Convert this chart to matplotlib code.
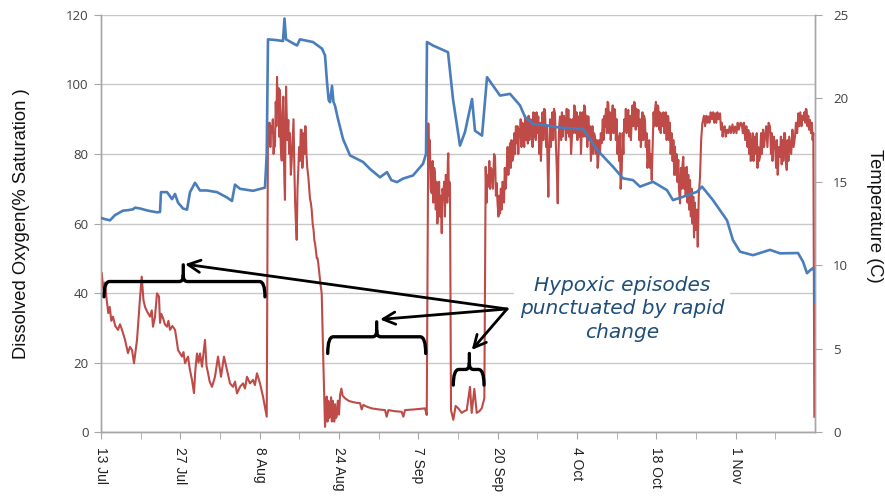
import matplotlib
matplotlib.use('Agg')
import matplotlib.pyplot as plt
from matplotlib.path import Path
from matplotlib.patches import PathPatch

# ---------------- data ----------------
date_labels = ['13 Jul', '27 Jul', '8 Aug', '24 Aug', '7 Sep', '20 Sep',
               '4 Oct', '18 Oct', '1 Nov']

# dissolved oxygen (% saturation): (position on category axis, value)
do_points = [
    (0.009, 45.7), (0.030, 41.0), (0.050, 43.0), (0.072, 38.0), (0.092, 34.2),
    (0.110, 36.0), (0.130, 32.0), (0.151, 33.2), (0.180, 30.5), (0.214, 29.4),
    (0.240, 31.0), (0.265, 29.4), (0.303, 26.5), (0.340, 22.7), (0.365, 24.5),
    (0.391, 23.6), (0.416, 19.8), (0.454, 26.5), (0.490, 38.0), (0.513, 44.7),
    (0.535, 38.0), (0.555, 36.0), (0.585, 34.5), (0.618, 33.2), (0.640, 35.0),
    (0.655, 30.3), (0.680, 33.0), (0.706, 39.9), (0.731, 39.0), (0.744, 31.4),
    (0.760, 34.0), (0.782, 32.8), (0.805, 31.0), (0.832, 30.3), (0.850, 32.0),
    (0.870, 29.4), (0.900, 30.5), (0.933, 29.4), (0.950, 27.0), (0.971, 23.6),
    (1.000, 22.5), (1.021, 21.7), (1.040, 23.0), (1.059, 19.8), (1.097, 21.7),
    (1.120, 18.0), (1.147, 15.0), (1.172, 11.2), (1.190, 18.0), (1.210, 22.6),
    (1.230, 20.0), (1.248, 22.6), (1.273, 18.8), (1.311, 26.5), (1.330, 19.0),
    (1.349, 17.0), (1.370, 14.5), (1.399, 13.0), (1.437, 15.9), (1.475, 21.7),
    (1.513, 15.9), (1.550, 21.7), (1.588, 17.8), (1.626, 14.0), (1.664, 13.0),
    (1.690, 14.5), (1.714, 11.1), (1.752, 13.0), (1.790, 14.0), (1.815, 12.5),
    (1.840, 15.9), (1.878, 14.0), (1.916, 15.0), (1.940, 13.5), (1.966, 16.9),
    (2.004, 14.0), (2.042, 10.2), (2.089, 4.4),
    (2.105, 88.9), (2.115, 84.0), (2.125, 89.0), (2.135, 82.0), (2.145, 88.0),
    (2.156, 86.0), (2.166, 90.0), (2.176, 80.0), (2.186, 86.0), (2.193, 82.1),
    (2.203, 95.0), (2.211, 88.0), (2.219, 102.2), (2.228, 92.0), (2.237, 99.0),
    (2.246, 85.0), (2.256, 98.4), (2.266, 82.0), (2.278, 78.1), (2.288, 92.0),
    (2.298, 96.5), (2.305, 80.0), (2.312, 72.0), (2.319, 66.8), (2.326, 88.0),
    (2.333, 99.4), (2.340, 92.0), (2.350, 84.0), (2.361, 89.8), (2.372, 80.0),
    (2.382, 86.0), (2.393, 74.0), (2.404, 78.3), (2.415, 84.0), (2.427, 90.0),
    (2.437, 76.0), (2.447, 66.0), (2.457, 60.0), (2.467, 55.3), (2.477, 70.0),
    (2.487, 75.4), (2.497, 82.0), (2.508, 78.0), (2.518, 87.0), (2.530, 86.9),
    (2.538, 76.0), (2.546, 78.3), (2.556, 86.0), (2.566, 80.0), (2.573, 88.0),
    (2.580, 87.9), (2.590, 80.0), (2.600, 76.0), (2.613, 73.5), (2.625, 70.0),
    (2.635, 67.0), (2.645, 66.0), (2.656, 63.9), (2.668, 60.0), (2.680, 58.0),
    (2.690, 55.0), (2.698, 54.3), (2.710, 52.0), (2.720, 50.0), (2.730, 50.0),
    (2.739, 48.5), (2.750, 46.0), (2.760, 44.0), (2.770, 42.0), (2.782, 39.9),
    (2.792, 30.0), (2.802, 20.7), (2.815, 9.2), (2.824, 1.5), (2.835, 8.0),
    (2.845, 10.2), (2.855, 3.0), (2.865, 9.0), (2.875, 4.0), (2.887, 4.4),
    (2.900, 10.0), (2.910, 3.0), (2.920, 9.0), (2.928, 7.3), (2.940, 3.0),
    (2.950, 8.0), (2.960, 4.0), (2.971, 4.4), (2.985, 9.0), (3.000, 5.0),
    (3.013, 10.6), (3.030, 12.5), (3.045, 10.5), (3.076, 9.7), (3.120, 9.0),
    (3.160, 8.7), (3.220, 8.4), (3.265, 8.3), (3.286, 6.5), (3.306, 7.8),
    (3.360, 7.2), (3.412, 6.8), (3.500, 6.5), (3.580, 6.3), (3.601, 4.4),
    (3.622, 6.3), (3.700, 6.0), (3.790, 5.8), (3.811, 4.4), (3.832, 6.3),
    (3.950, 6.5), (4.084, 6.8), (4.106, 4.9),
    (4.126, 88.8), (4.135, 76.0), (4.145, 84.0), (4.155, 70.0), (4.169, 68.7),
    (4.180, 78.0), (4.190, 66.0), (4.200, 76.0), (4.210, 74.4), (4.220, 64.0),
    (4.230, 72.0), (4.240, 60.0), (4.252, 65.8), (4.262, 72.0), (4.272, 62.0),
    (4.283, 68.0), (4.295, 57.2), (4.305, 70.0), (4.315, 66.8), (4.325, 72.0),
    (4.335, 62.0), (4.345, 74.0), (4.358, 73.5), (4.365, 66.0), (4.372, 78.0),
    (4.378, 80.2), (4.385, 68.0), (4.392, 72.0), (4.399, 70.0), (4.412, 6.3),
    (4.441, 3.5), (4.470, 7.5), (4.504, 6.8), (4.547, 5.5), (4.580, 6.0),
    (4.610, 6.3), (4.651, 13.0), (4.673, 5.5), (4.706, 12.4), (4.736, 5.5),
    (4.770, 6.0), (4.799, 6.8), (4.832, 9.7),
    (4.849, 76.3), (4.860, 66.0), (4.870, 74.0), (4.882, 70.6), (4.895, 78.0),
    (4.905, 70.0), (4.915, 76.0), (4.925, 75.4), (4.940, 70.0), (4.955, 80.0),
    (4.967, 79.2), (4.978, 68.0), (4.988, 71.6), (4.998, 66.0), (5.010, 62.0),
    (5.020, 68.0), (5.030, 62.9), (5.040, 70.0), (5.050, 64.0), (5.060, 72.0),
    (5.071, 71.6), (5.080, 66.0), (5.090, 76.0), (5.100, 70.0), (5.114, 75.4),
    (5.125, 82.0), (5.135, 74.0), (5.145, 80.0), (5.156, 83.1), (5.165, 76.0),
    (5.175, 84.0), (5.185, 78.0), (5.197, 79.2), (5.210, 86.0), (5.220, 80.0),
    (5.230, 88.0), (5.240, 83.1), (5.250, 88.0), (5.260, 80.0), (5.270, 87.0),
    (5.282, 85.0), (5.290, 90.0), (5.300, 82.0), (5.310, 89.0), (5.323, 87.9),
    (5.335, 82.0), (5.345, 91.0), (5.355, 84.0), (5.366, 89.8), (5.380, 83.0),
    (5.390, 91.0), (5.400, 84.0), (5.415, 90.0), (5.429, 88.8), (5.440, 82.0),
    (5.450, 92.0), (5.460, 85.0), (5.471, 91.7), (5.480, 84.0), (5.490, 92.0),
    (5.500, 86.0), (5.512, 90.8), (5.525, 80.0), (5.535, 89.0), (5.545, 78.0),
    (5.555, 85.0), (5.565, 92.0), (5.575, 84.0), (5.585, 93.0), (5.597, 92.7),
    (5.610, 82.0), (5.620, 88.0), (5.630, 76.0), (5.639, 67.7), (5.648, 80.0),
    (5.660, 90.0), (5.670, 82.0), (5.681, 86.9), (5.690, 92.0), (5.700, 84.0),
    (5.710, 93.0), (5.723, 91.7), (5.735, 82.0), (5.745, 76.0), (5.757, 65.8),
    (5.765, 78.0), (5.775, 88.0), (5.786, 90.8), (5.800, 84.0), (5.810, 92.0),
    (5.820, 85.0), (5.835, 91.0), (5.849, 89.8), (5.860, 84.0), (5.870, 93.0),
    (5.880, 86.0), (5.891, 92.7), (5.900, 85.0), (5.915, 90.0), (5.925, 80.0),
    (5.933, 83.1), (5.945, 90.0), (5.955, 86.0), (5.965, 94.0), (5.975, 93.6),
    (5.985, 86.0), (5.995, 92.0), (6.005, 84.0), (6.017, 90.8), (6.030, 85.0),
    (6.040, 92.0), (6.050, 80.0), (6.059, 86.0), (6.070, 92.0), (6.080, 85.0),
    (6.090, 94.0), (6.101, 93.6), (6.110, 85.0), (6.120, 91.0), (6.130, 82.0),
    (6.143, 90.8), (6.155, 84.0), (6.165, 88.0), (6.175, 78.0), (6.185, 83.1),
    (6.195, 88.0), (6.205, 80.0), (6.215, 86.0), (6.227, 85.0), (6.240, 80.0),
    (6.250, 84.0), (6.260, 76.0), (6.269, 78.3), (6.280, 84.0), (6.290, 80.0),
    (6.300, 86.0), (6.312, 83.1), (6.325, 90.0), (6.335, 84.0), (6.345, 91.0),
    (6.353, 87.9), (6.365, 93.0), (6.375, 86.0), (6.385, 95.0), (6.395, 94.6),
    (6.405, 86.0), (6.415, 92.0), (6.425, 84.0), (6.438, 89.8), (6.450, 94.0),
    (6.460, 86.0), (6.470, 93.0), (6.479, 92.7), (6.490, 84.0), (6.500, 90.0),
    (6.510, 80.0), (6.521, 85.0), (6.530, 78.0), (6.540, 86.0), (6.550, 70.0),
    (6.564, 75.4), (6.575, 86.0), (6.585, 80.0), (6.595, 90.0), (6.605, 86.9),
    (6.615, 93.0), (6.625, 86.0), (6.635, 91.0), (6.647, 92.7), (6.660, 85.0),
    (6.670, 91.0), (6.680, 84.0), (6.690, 89.8), (6.700, 94.0), (6.710, 88.0),
    (6.720, 95.0), (6.731, 94.6), (6.740, 87.0), (6.750, 93.0), (6.760, 88.0),
    (6.774, 92.7), (6.785, 84.0), (6.795, 90.0), (6.805, 82.0), (6.816, 86.9),
    (6.825, 92.0), (6.835, 84.0), (6.845, 91.0), (6.857, 89.8), (6.867, 82.0),
    (6.877, 86.0), (6.888, 76.0), (6.899, 79.2), (6.910, 84.0), (6.920, 76.0),
    (6.930, 80.0), (6.942, 72.5), (6.955, 84.0), (6.965, 92.0), (6.975, 88.0),
    (6.983, 92.7), (6.995, 95.0), (7.005, 88.0), (7.015, 94.0), (7.025, 93.6),
    (7.035, 87.0), (7.045, 92.0), (7.055, 86.0), (7.068, 91.7), (7.080, 88.0),
    (7.090, 92.0), (7.100, 86.0), (7.109, 89.8), (7.120, 92.0), (7.130, 84.0),
    (7.140, 91.0), (7.151, 90.8), (7.160, 84.0), (7.170, 89.0), (7.180, 80.0),
    (7.194, 86.0), (7.205, 78.0), (7.215, 84.0), (7.225, 74.0), (7.235, 82.1),
    (7.245, 74.0), (7.255, 80.0), (7.265, 72.0), (7.277, 78.3), (7.285, 70.0),
    (7.292, 68.0), (7.299, 65.8), (7.310, 76.0), (7.320, 70.0), (7.330, 77.0),
    (7.340, 79.2), (7.350, 70.0), (7.360, 76.0), (7.370, 68.0), (7.383, 76.3),
    (7.393, 66.0), (7.403, 74.0), (7.413, 64.0), (7.425, 72.5), (7.435, 62.0),
    (7.445, 70.0), (7.455, 60.0), (7.466, 67.7), (7.475, 56.0), (7.485, 66.0),
    (7.497, 58.1), (7.510, 64.0), (7.522, 53.3), (7.535, 68.0), (7.551, 73.5),
    (7.565, 84.0), (7.580, 88.8), (7.600, 91.0), (7.615, 88.0), (7.630, 91.0),
    (7.645, 89.0), (7.656, 90.8), (7.670, 89.0), (7.685, 92.0), (7.700, 90.0),
    (7.715, 92.0), (7.730, 89.0), (7.740, 91.7), (7.755, 89.0), (7.770, 92.0),
    (7.785, 90.0), (7.803, 91.7), (7.815, 87.0), (7.825, 89.0), (7.835, 85.0),
    (7.845, 86.9), (7.860, 88.0), (7.875, 85.0), (7.890, 87.0), (7.908, 86.0),
    (7.925, 88.0), (7.940, 86.0), (7.960, 88.5), (7.975, 86.0), (7.992, 87.9),
    (8.010, 86.0), (8.025, 89.0), (8.040, 87.0), (8.060, 89.0), (8.076, 88.8),
    (8.090, 86.0), (8.105, 89.0), (8.120, 84.0), (8.135, 88.0), (8.150, 82.0),
    (8.160, 86.9), (8.170, 80.0), (8.180, 86.0), (8.190, 78.0), (8.202, 81.2),
    (8.215, 86.0), (8.225, 78.0), (8.235, 85.0), (8.244, 84.1), (8.255, 80.0),
    (8.265, 86.0), (8.275, 76.0), (8.285, 82.0), (8.295, 78.0), (8.307, 79.2),
    (8.320, 86.0), (8.330, 80.0), (8.345, 87.0), (8.358, 82.0), (8.370, 85.0),
    (8.385, 88.0), (8.400, 82.0), (8.415, 89.0), (8.433, 87.9), (8.445, 80.0),
    (8.455, 86.0), (8.465, 78.0), (8.480, 85.0), (8.496, 83.1), (8.510, 76.0),
    (8.520, 84.0), (8.530, 74.0), (8.545, 82.0), (8.559, 79.2), (8.570, 85.0),
    (8.580, 77.0), (8.590, 84.0), (8.600, 78.0), (8.610, 86.0), (8.622, 86.0),
    (8.632, 78.0), (8.644, 75.4), (8.655, 84.0), (8.665, 78.0), (8.675, 85.0),
    (8.685, 83.1), (8.700, 80.0), (8.715, 87.0), (8.730, 82.0), (8.748, 85.0),
    (8.760, 89.0), (8.775, 86.0), (8.790, 91.7), (8.800, 88.0), (8.815, 92.0),
    (8.830, 88.0), (8.840, 91.0), (8.853, 89.8), (8.865, 92.0), (8.875, 89.0),
    (8.885, 93.0), (8.895, 92.7), (8.905, 88.0), (8.915, 91.0), (8.925, 87.0),
    (8.937, 89.8), (8.950, 86.0), (8.960, 89.0), (8.970, 84.0), (8.979, 86.0),
    (8.992, 4.4),
]

# water temperature (C): (position on category axis, value)
temp_points = [
    (0.000, 12.83), (0.060, 12.75), (0.113, 12.69), (0.176, 13.00), (0.277, 13.27),
    (0.340, 13.30), (0.403, 13.35), (0.430, 13.45), (0.492, 13.40), (0.592, 13.27),
    (0.706, 13.17), (0.744, 13.19), (0.756, 14.38), (0.832, 14.38), (0.860, 14.20),
    (0.895, 13.96), (0.933, 14.27), (0.971, 13.75), (1.034, 13.40), (1.084, 13.33),
    (1.122, 14.38), (1.185, 14.94), (1.248, 14.48), (1.336, 14.48), (1.462, 14.38),
    (1.588, 14.06), (1.651, 13.85), (1.689, 14.83), (1.752, 14.58), (1.916, 14.46),
    (2.067, 14.65), (2.089, 16.67), (2.105, 23.54), (2.200, 23.50), (2.294, 23.44),
    (2.313, 24.79), (2.332, 23.54), (2.471, 23.17), (2.508, 23.54), (2.600, 23.45),
    (2.672, 23.38), (2.786, 22.98), (2.824, 22.58), (2.849, 20.96), (2.870, 19.90),
    (2.887, 19.77), (2.912, 20.75), (2.930, 19.80), (2.950, 19.56), (2.987, 18.77),
    (3.051, 17.56), (3.139, 16.58), (3.303, 16.19), (3.391, 15.77), (3.517, 15.27),
    (3.605, 15.58), (3.660, 15.10), (3.731, 14.98), (3.807, 15.19), (3.933, 15.38),
    (4.059, 16.08), (4.097, 16.67), (4.109, 23.38), (4.185, 23.17), (4.374, 22.77),
    (4.437, 19.96), (4.525, 17.17), (4.588, 17.98), (4.677, 19.96), (4.714, 18.06),
    (4.803, 17.77), (4.866, 21.27), (5.030, 20.17), (5.156, 20.27), (5.282, 19.58),
    (5.345, 18.88), (5.446, 18.46), (5.622, 18.38), (5.748, 18.27), (6.000, 18.17),
    (6.076, 18.17), (6.252, 16.92), (6.454, 15.90), (6.580, 15.21), (6.706, 15.10),
    (6.794, 14.71), (6.958, 15.00), (7.134, 14.50), (7.210, 13.90), (7.336, 14.10),
    (7.513, 14.40), (7.576, 14.71), (7.714, 13.90), (7.891, 12.69), (7.966, 11.50),
    (8.055, 10.81), (8.219, 10.60), (8.433, 10.92), (8.559, 10.71), (8.786, 10.73),
    (8.849, 10.21), (8.899, 9.52), (8.940, 9.70), (8.975, 9.83), (9.000, 9.52),
    (9.000, 7.81),
]

do_ticks = [0, 20, 40, 60, 80, 100, 120]
temp_ticks = [0, 5, 10, 15, 20, 25]

do_pos = [p for p, _ in do_points]
do_sat = [v for _, v in do_points]
temp_pos = [p for p, _ in temp_points]
temp_c = [v for _, v in temp_points]

# ---------------- styling ----------------
RED = '#BE4B48'
BLUE = '#4A7EBB'
GRID = '#C8C8C8'
SPINE = '#A6A6A6'
TXT = '#404040'
NAVY = '#1F4E79'

W, H = 885, 496
fig = plt.figure(figsize=(W / 100, H / 100), dpi=100)
ax = fig.add_axes([0.11412, 0.12903, 0.80678, 0.84073])
ax2 = ax.twinx()

ax.plot(do_pos, do_sat, color=RED, lw=1.5, zorder=3)
ax2.plot(temp_pos, temp_c, color=BLUE, lw=1.9, zorder=3)

ax.set_xlim(0, 9)
ax.set_ylim(0, 120)
ax2.set_ylim(0, 25)

ax.set_yticks(do_ticks)
ax2.set_yticks(temp_ticks)
ax.set_xticks(range(len(date_labels)))
ax.set_xticks([i + 0.5 for i in range(len(date_labels))], minor=True)
ax.set_xticklabels(date_labels, rotation=-90, fontsize=10,
                   family='Liberation Sans', color='#202020')
ax.tick_params(axis='x', which='both', direction='out', length=5,
               color=SPINE, pad=6)
ax.tick_params(axis='y', direction='out', length=5, color=SPINE,
               labelsize=9.5, labelcolor=TXT, pad=4)
ax2.tick_params(axis='y', direction='out', length=5, color=SPINE,
                labelsize=9.5, labelcolor=TXT, pad=8)
for lab in ax.get_yticklabels() + ax2.get_yticklabels():
    lab.set_family('Open Sans')

ax.yaxis.grid(True, color=GRID, lw=1)
ax.set_axisbelow(True)
for a in (ax, ax2):
    a.spines['top'].set_visible(False)
    for s in ('left', 'right', 'bottom'):
        a.spines[s].set_color(SPINE)
        a.spines[s].set_linewidth(1)

fig.text(22 / W, 1 - 223.5 / H, 'Dissolved Oxygen(% Saturation )',
         rotation=90, ha='center', va='center', fontsize=13.2,
         family='Liberation Sans', color='#111111')
fig.text(874 / W, 1 - 215.5 / H, 'Temperature (C)',
         rotation=-90, ha='center', va='center', fontsize=13.2,
         family='Liberation Sans', color='#111111')


# ---------------- annotations ----------------
def brace(axis, x0, x1, yh, yend, xt, ytip):
    dx = 0.07
    dt = 0.05
    verts = [(x0, yend), (x0, yh), (x0 + dx, yh),
             (xt - dt, yh), (xt, yh), (xt, yh + 1.8), (xt, ytip),
             (xt, yh + 1.8), (xt, yh), (xt + dt, yh),
             (x1 - dx, yh), (x1, yh), (x1, yend)]
    codes = [Path.MOVETO, Path.CURVE3, Path.CURVE3,
             Path.LINETO, Path.CURVE3, Path.CURVE3, Path.LINETO,
             Path.MOVETO, Path.CURVE3, Path.CURVE3,
             Path.LINETO, Path.CURVE3, Path.CURVE3]
    axis.add_patch(PathPatch(Path(verts, codes), fill=False, ec='black',
                             lw=2.4, capstyle='round', joinstyle='round',
                             zorder=6))


brace(ax, 0.038, 2.067, 43.3, 38.9, 1.037, 48.1)
brace(ax, 2.858, 4.093, 27.4, 22.6, 3.475, 31.7)
brace(ax, 4.441, 4.828, 18.0, 13.5, 4.643, 22.6)

origin = (5.118, 35.4)
for tip in [(1.059, 48.3), (3.517, 32.4), (4.673, 23.6)]:
    ax.annotate('', xy=tip, xytext=origin,
                arrowprops=dict(arrowstyle='->', color='black', lw=2.0,
                                mutation_scale=22, shrinkA=0, shrinkB=0),
                zorder=6)

ax.text(6.567, 35.4, 'Hypoxic episodes\npunctuated by rapid\nchange',
        ha='center', va='center', style='italic', fontsize=14.5,
        family='DejaVu Sans', color=NAVY, linespacing=1.3, zorder=5,
        bbox=dict(fc='white', ec='none', pad=4))

fig.savefig('out.png', dpi=100)
